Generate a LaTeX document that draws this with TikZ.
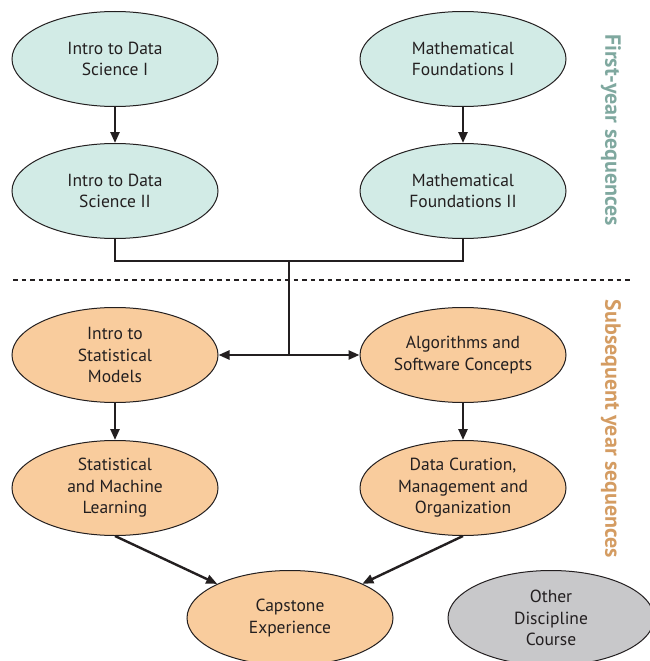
\documentclass[tikz,border=0pt]{standalone}
\usepackage{fontspec}
\setmainfont{PT Sans}
\usetikzlibrary{shapes.geometric,arrows.meta}
\definecolor{tealfill}{HTML}{D2EBE6}
\definecolor{orangefill}{HTML}{F9CC9D}
\definecolor{grayfill}{HTML}{C8C8CA}
\definecolor{tealtext}{HTML}{7FA89F}
\definecolor{orangetext}{HTML}{D49C62}
\definecolor{inktext}{HTML}{231F20}
\tikzset{
  course/.style={ellipse, draw=inktext, line width=1pt, minimum width=206pt, minimum height=95pt, inner sep=0pt, align=center, font=\fontsize{17.5}{21.5}\selectfont, text=inktext},
  firstyear/.style={course, fill=tealfill},
  later/.style={course, fill=orangefill},
  other/.style={course, fill=grayfill},
  link/.style={draw=inktext, line width=2.4pt},
  tip/.tip={Triangle[length=11pt,width=9pt]},
  arrowlink/.style={link, -tip},
  twoway/.style={link, tip-tip},
  sidelabel/.style={rotate=-90, font=\fontsize{22}{24}\selectfont\bfseries}
}
\begin{document}
\begin{tikzpicture}[x=1pt,y=-1pt]
\useasboundingbox (0,0) rectangle (649,661);
\node[firstyear] (ds1) at (115,59) {Intro to Data\\Science I};
\node[firstyear] (ds2) at (115,191) {Intro to Data\\Science II};
\node[firstyear] (mf1) at (463,59) {Mathematical\\Foundations I};
\node[firstyear] (mf2) at (463,191) {Mathematical\\Foundations II};
\node[later] (ism) at (115,355) {Intro to\\Statistical\\Models};
\node[later] (alg) at (463,355) {Algorithms and\\Software Concepts};
\node[later] (sml) at (115,488) {Statistical\\and Machine\\Learning};
\node[later] (dc) at (463,488) {Data Curation,\\Management and\\Organization};
\node[later] (cap) at (290,618) {Capstone\\Experience};
\node[other] (oth) at (551,618) {Other\\Discipline\\Course};
\node[sidelabel, text=tealtext] (fy) at (611,130) {First-year sequences};
\node[sidelabel, text=orangetext] (sy) at (611,429) {Subsequent year sequences};
\coordinate (j) at (289,261);
\coordinate (k) at (289,355);
\coordinate (dl) at (13,280);
\coordinate (dr) at (631,280);
\draw[arrowlink] (ds1) -- (ds2);
\draw[arrowlink] (mf1) -- (mf2);
\draw[link] (ds2.south) |- (j) -| (mf2.south);
\draw[link] (j) -- (k);
\draw[twoway] (ism.east) -- (alg.west);
\draw[arrowlink] (ism) -- (sml);
\draw[arrowlink] (alg) -- (dc);
\draw[arrowlink] (sml.south) -- (cap);
\draw[arrowlink] (dc.south) -- (cap);
\draw[draw=inktext, line width=2.4pt, dash pattern=on 4.5pt off 4pt] (dl) -- (dr);
\end{tikzpicture}
\end{document}
